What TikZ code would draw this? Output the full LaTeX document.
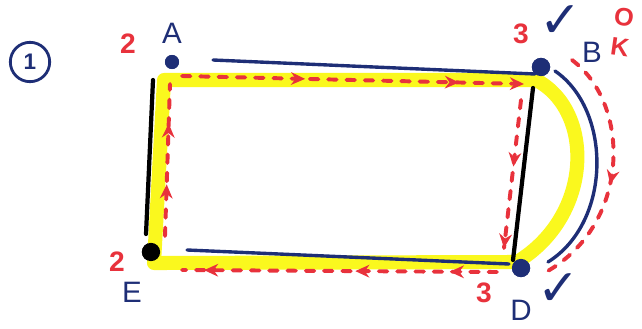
\documentclass[tikz,border=0pt]{standalone}
\usepackage{fontspec}
\setsansfont{Liberation Sans}
\newfontfamily\symfont{DejaVu Sans}
\usetikzlibrary{arrows.meta,positioning,calc,decorations.markings}
\definecolor{cInk}{RGB}{30,46,118}
\definecolor{cPen}{RGB}{232,50,60}
\definecolor{cMark}{RGB}{250,248,30}
\tikzset{
  vtx/.style={circle, fill=cInk, minimum size=12pt, inner sep=0pt},
  vlbl/.style={text=cInk, font=\sffamily\fontsize{21}{23}\selectfont, inner sep=1pt},
  deg/.style={text=cPen, font=\sffamily\bfseries\fontsize{20}{22}\selectfont, inner sep=1pt},
  tick/.style={text=cInk, font=\symfont\fontsize{36}{38}\selectfont, inner sep=0pt},
  bluee/.style={draw=cInk, line width=2.4pt, line cap=round},
  blacke/.style={draw=black, line width=3pt, line cap=round},
  hilite/.style={draw=cMark, line width=10pt, line cap=round, line join=round},
  trail/.style={draw=cPen, line width=2.8pt, dash pattern=on 6pt off 7pt, line cap=round},
  tipat/.style={postaction={decorate, decoration={markings,
      mark=at position #1 with {\arrow{Stealth[length=10pt, width=9pt]}}}}},
}

\begin{document}
\begin{tikzpicture}[x=0.025cm, y=-0.025cm]
  \useasboundingbox (0,0) rectangle (642,328);
  % vertices
  \node[vtx, minimum size=10pt] (A) at (172,62) {};
  \node[vtx, minimum size=13pt] (B) at (541,67) {};
  \node[vtx, minimum size=13pt] (D) at (521,268) {};
  \node[vtx, fill=black, minimum size=13pt] (E) at (151,252) {};
  % highlighted tour
  \coordinate (yA) at (164,80);
  \coordinate (yB) at (536,80);
  \coordinate (yD) at (517,262);
  \coordinate (yE) at (154,263);
  \draw[hilite] (yA) -- (yB) .. controls (594,110) and (594,215) .. (yD) -- (yE) -- cycle;
  % edges
  \draw[bluee] ($(A)+(41,-2)$) -- ($(B)+(-6,7)$);
  \draw[blacke] ($(B)+(-8,21)$) -- ($(D)+(-8,-8)$);
  \draw[bluee] ($(B)+(14,4)$) .. controls (612,110) and (612,222) .. ($(D)+(27,-6)$);
  \draw[bluee] ($(E)+(36,-2)$) -- ($(D)+(-12,-4)$);
  \draw[blacke] ($(A)+(-19,18)$) -- ($(E)+(-5,-18)$);
  % redraw dots on top
  \node[vtx, minimum size=10pt] at (A) {};
  \node[vtx, minimum size=13pt] at (B) {};
  \node[vtx, minimum size=13pt] at (D) {};
  \node[vtx, fill=black, minimum size=13pt] at (E) {};
  % red walk
  \coordinate (r1) at (182,76);
  \coordinate (r2) at (524,84);
  \coordinate (r3) at (521,100);
  \coordinate (r4) at (504,248);
  \coordinate (r5) at (497,272);
  \coordinate (r6) at (182,270);
  \coordinate (r7) at (165,236);
  \coordinate (r8) at (170,84);
  \coordinate (r9) at (572,60);
  \coordinate (r10) at (546,272);
  \draw[trail, tipat=0.36, tipat=0.81, tipat=1] (r1) -- (r2);
  \draw[trail, tipat=0.45, tipat=1] (r3) -- (r4);
  \draw[trail, tipat=0.55, tipat=1] (r9) .. controls (632,105) and (630,225) .. (r10);
  \draw[trail, tipat=0.15, tipat=0.45, tipat=0.93] (r5) -- (r6);
  \draw[trail, tipat=0.34, tipat=0.74] (r7) -- (r8);
  % labels
  \node[draw=cInk, line width=2pt, circle, minimum size=28pt, inner sep=0pt,
        text=cInk, font=\sffamily\bfseries\fontsize{16}{18}\selectfont] (num) at (30,62) {1};
  \node[vlbl] (lA) at (172,33) {A};
  \node[deg] (dA) at (128,44) {2};
  \node[deg] (dB) at (521,34) {3};
  \node[tick] (tB) at (561,22) {✓};
  \node[vlbl] (lB) at (592,52) {B};
  \node[text=cPen, align=center, rotate=-8, inner sep=0pt,
        font=\sffamily\bfseries\fontsize{18}{22}\selectfont] (ok) at (622,32) {O\\K};
  \node[deg] (dD) at (484,293) {3};
  \node[vlbl] (lD) at (521,310) {D};
  \node[tick] (tD) at (559,290) {✓};
  \node[deg] (dE) at (117,262) {2};
  \node[vlbl] (lE) at (132,292) {E};
\end{tikzpicture}
\end{document}
